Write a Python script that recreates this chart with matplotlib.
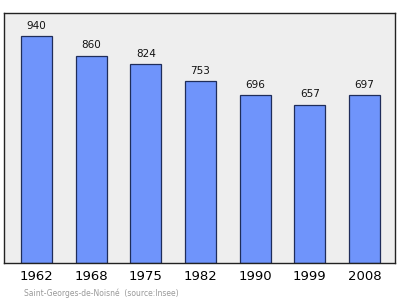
import matplotlib
matplotlib.use('Agg')
import matplotlib.pyplot as plt

# ── Data ──────────────────────────────────────────────────────────────────────
years = ['1962', '1968', '1975', '1982', '1990', '1999', '2008']
population = [940, 860, 824, 753, 696, 657, 697]

W, H = 400, 299
fig = plt.figure(figsize=(W / 100, H / 100), dpi=100)
# axes frame in pixel coords: left 4, right 395, top 13, bottom 263
ax = fig.add_axes([4 / W, 1 - 263 / H, (395 - 4) / W, (263 - 13) / H])
ax.set_facecolor('#eeeeee')

x = range(len(years))
ax.bar(x, population, width=0.567, color='#6f94fb', edgecolor='#1f2d5a', linewidth=0.9, zorder=2)

for xi, v in zip(x, population):
    ax.text(xi, v + 22, str(v), ha='center', va='bottom', fontsize=7.5, color='#111111')

ax.set_xlim(-0.594, 6.56)
ax.set_ylim(0, 1037)
ax.set_yticks([])
ax.set_xticks(list(x))
ax.set_xticklabels(years, fontsize=9.5)
ax.tick_params(axis='x', length=0, pad=5)
for s in ax.spines.values():
    s.set_color('#222222')
    s.set_linewidth(1.0)

fig.text(24 / W, 1 - 293 / H, 'Saint-Georges-de-Noisné  (source:Insee)',
         fontsize=5.5, color='#999999', va='center', ha='left')

fig.savefig('out.png', dpi=100)
